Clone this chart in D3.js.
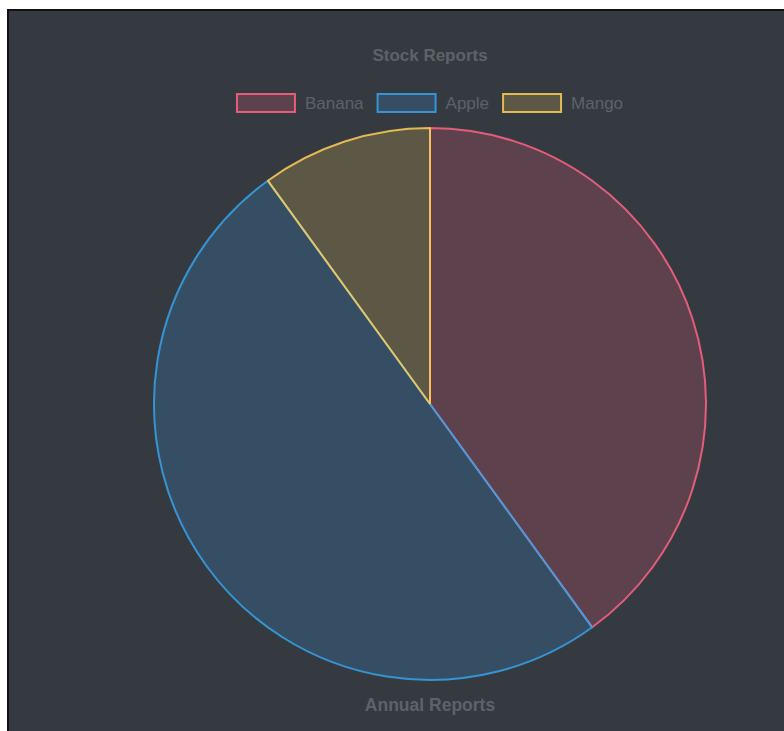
<!DOCTYPE html>
<html>
<head>
<meta charset="utf-8">
<script src="https://cdn.jsdelivr.net/npm/d3@7"></script>
<style>
  html, body { margin: 0; padding: 0; background: #fff; }
  #frame {
    position: absolute; left: 7px; top: 9px;
    width: 777px; height: 722px;
    background: #353a41;
    border-left: 2px solid #111; border-top: 2px solid #111;
    box-sizing: border-box;
  }
  svg { position: absolute; left: 0; top: 0; }
  text { font-family: "Liberation Sans", Arial, sans-serif; }
</style>
</head>
<body>
<div id="frame"></div>
<svg id="chart" width="784" height="731"></svg>
<script>
// Pie of stock share per fruit, Chart.js-like dark theme.

const labels = ['Banana', 'Apple', 'Mango'];
const values = [40, 50, 10];
const titleText = 'Stock Reports';
const footerText = 'Annual Reports';

// rgb per slice; fill = same color at 0.2 alpha
const palette = ['rgb(255,99,132)', 'rgb(54,162,235)', 'rgb(255,206,86)'];
const fillOf = (c) => c.replace('rgb', 'rgba').replace(')', ',0.2)');
const TEXT = '#5e6268';

const svg = d3.select('#chart');
const cx = 430, cy = 404, r = 276;

svg.append('text')
  .attr('x', cx).attr('y', 55)
  .attr('text-anchor', 'middle').attr('dominant-baseline', 'central')
  .attr('font-size', 17).attr('font-weight', 'bold')
  .attr('fill', TEXT)
  .text(titleText);

// legend: measure labels, then center the whole row
const boxW = 58, boxH = 18, boxGap = 10, itemGap = 14, legendY = 103;
const legend = svg.append('g');
const items = legend.selectAll('g')
  .data(labels)
  .join('g');
items.append('rect')
  .attr('width', boxW).attr('height', boxH)
  .attr('y', legendY - boxH / 2)
  .attr('fill', (d, i) => fillOf(palette[i]))
  .attr('stroke', (d, i) => palette[i])
  .attr('stroke-opacity', 0.85)
  .attr('stroke-width', 2);
items.append('text')
  .attr('x', boxW + boxGap).attr('y', legendY)
  .attr('dominant-baseline', 'central')
  .attr('font-size', 17)
  .attr('fill', TEXT)
  .text((d) => d);

const widths = items.nodes().map((n) => boxW + boxGap + n.querySelector('text').getComputedTextLength());
const total = d3.sum(widths) + itemGap * (widths.length - 1);
let xPos = cx - total / 2;
items.attr('transform', (d, i) => {
  const t = `translate(${xPos},0)`;
  xPos += widths[i] + itemGap;
  return t;
});

// pie, clockwise from 12 o'clock, data order kept
const pie = d3.pie().sort(null)(values);
const arc = d3.arc().innerRadius(0).outerRadius(r);
svg.append('g')
  .attr('transform', `translate(${cx},${cy})`)
  .selectAll('path')
  .data(pie)
  .join('path')
  .attr('d', arc)
  .attr('fill', (d, i) => fillOf(palette[i]))
  .attr('stroke', (d, i) => palette[i])
  .attr('stroke-opacity', 0.85)
  .attr('stroke-width', 2)
  .attr('stroke-linejoin', 'bevel');

svg.append('text')
  .attr('x', cx).attr('y', 705)
  .attr('text-anchor', 'middle').attr('dominant-baseline', 'central')
  .attr('font-size', 17.5).attr('font-weight', 'bold')
  .attr('fill', TEXT)
  .text(footerText);
</script>
</body>
</html>
